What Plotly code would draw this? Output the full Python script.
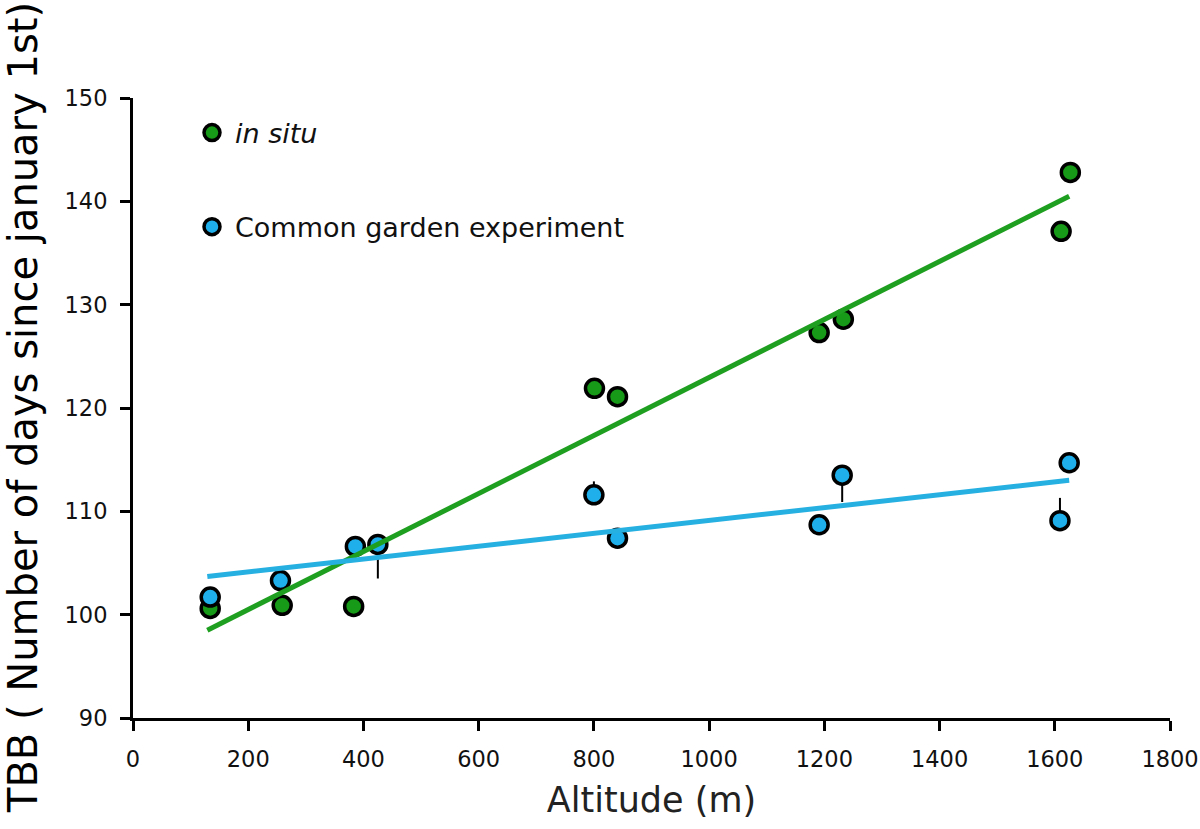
import plotly.graph_objects as go

# ---- data ----
insitu_alt = [134, 259, 383, 801, 841, 1191, 1233, 1611, 1627]
insitu_tbb = [100.6, 100.9, 100.8, 121.9, 121.1, 127.3, 128.6, 137.1, 142.8]

garden_alt = [134, 256, 386, 425, 800, 841, 1191, 1231, 1609, 1625]
garden_tbb = [101.7, 103.3, 106.6, 106.8, 111.6, 107.4, 108.7, 113.5, 109.1, 114.7]
garden_err_plus = [0, 0, 0, 0, 1.3, 0, 0, 0, 2.2, 0]
garden_err_minus = [0, 0, 0, 3.3, 0, 0, 0, 2.6, 0, 0]

fit_alt = [129, 1625]
insitu_fit = [98.5, 140.5]
garden_fit = [103.7, 113.0]

x_ticks = [0, 200, 400, 600, 800, 1000, 1200, 1400, 1600, 1800]
y_ticks = [90, 100, 110, 120, 130, 140, 150]

GREEN = "#179a17"
GREEN_LINE = "#1f9f1f"
BLUE = "#1fb0ec"
BLUE_LINE = "#26b0e2"
FONT = "DejaVu Sans"

fig = go.Figure()

fig.add_trace(go.Scatter(
    x=insitu_alt, y=insitu_tbb, mode="markers", name="<i>in situ</i>",
    legendgroup="a",
    marker=dict(size=18, color=GREEN, line=dict(color="black", width=3.5)),
))
fig.add_trace(go.Scatter(
    x=garden_alt, y=garden_tbb, mode="markers", name="Common garden experiment",
    legendgroup="b",
    marker=dict(size=18, color=BLUE, line=dict(color="black", width=3.5)),
    error_y=dict(type="data", symmetric=False, array=garden_err_plus,
                 arrayminus=garden_err_minus, color="black", thickness=2, width=0),
))
fig.add_trace(go.Scatter(
    x=fit_alt, y=insitu_fit, mode="lines", showlegend=False,
    line=dict(color=GREEN_LINE, width=5),
))
fig.add_trace(go.Scatter(
    x=fit_alt, y=garden_fit, mode="lines", showlegend=False,
    line=dict(color=BLUE_LINE, width=5),
))

axis_common = dict(
    showgrid=False, zeroline=False, showline=True, linecolor="black", linewidth=3,
    ticks="outside", ticklen=10, tickwidth=2.5, tickcolor="black", automargin=False,
)

fig.update_layout(
    width=1200, height=829,
    margin=dict(l=133, r=30, t=98, b=111),
    paper_bgcolor="white", plot_bgcolor="white",
    font=dict(family=FONT, color="black"),
    xaxis=dict(
        range=[0, 1800], tickvals=x_ticks, ticktext=[str(v) for v in x_ticks],
        tickfont=dict(size=22.5, family=FONT, color="#111"),
        ticklabelstandoff=9,
        title=dict(text="Altitude (m)", font=dict(size=35, family=FONT, color="#222"),
                   standoff=17),
        **axis_common,
    ),
    yaxis=dict(
        range=[90, 150], tickvals=y_ticks, ticktext=[str(v) for v in y_ticks],
        tickfont=dict(size=22.5, family=FONT, color="#111"),
        ticklabelstandoff=8,
        **axis_common,
    ),
    annotations=[dict(
        text="TBB ( Number of days since january 1st)",
        xref="paper", yref="paper", x=0, y=0.5, xanchor="center", yanchor="middle",
        xshift=-110, textangle=-90, showarrow=False,
        font=dict(size=40, family=FONT, color="black"),
    )],
    showlegend=True,
    legend=dict(
        x=0.054, y=0.983, xanchor="left", yanchor="top",
        bgcolor="rgba(0,0,0,0)", borderwidth=0,
        font=dict(size=27, family=FONT, color="#111"),
        tracegroupgap=56, traceorder="grouped", itemwidth=36,
    ),
)

fig.write_html("out.html", config={"displayModeBar": False},
               post_script="document.body.style.margin='0';")
